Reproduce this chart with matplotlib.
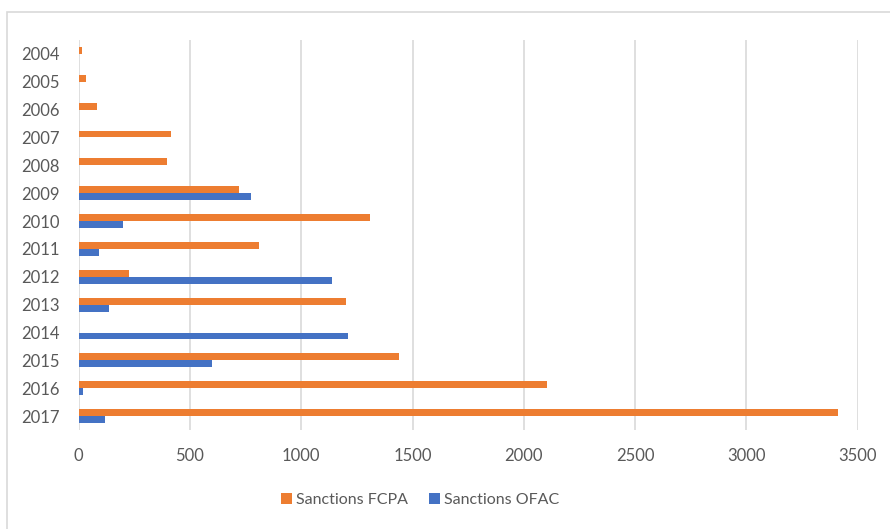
import matplotlib
matplotlib.use("Agg")
import matplotlib.pyplot as plt
import numpy as np
from matplotlib.patches import Rectangle

years = ["2004", "2005", "2006", "2007", "2008", "2009", "2010", "2011",
         "2012", "2013", "2014", "2015", "2016", "2017"]
fcpa = [16, 33, 84, 416, 396, 721, 1310, 808, 228, 1202, 0, 1441, 2103, 3412]
ofac = [0, 0, 0, 0, 3, 772, 199, 90, 1140, 136, 1209, 601, 19, 118]
xticks = [0, 500, 1000, 1500, 2000, 2500, 3000, 3500]

plt.rcParams['font.family'] = ['Lato', 'DejaVu Sans']
W, H = 890, 529
fig = plt.figure(figsize=(W / 100, H / 100), dpi=100)
ax = fig.add_axes([78.7 / W, 1 - 430 / H, (857.7 - 78.7) / W, (430 - 40) / H])

# outer border
fig.patches.append(Rectangle((7 / W, -0.1), 1.2, 1 - 12 / H + 0.1,
                             transform=fig.transFigure, fill=False,
                             edgecolor='#D9D9D9', linewidth=1.2))

y = np.arange(len(years))
h = 0.25
ax.barh(y - h / 2, fcpa, height=h, color='#ED7D31', label='Sanctions FCPA', zorder=3)
ax.barh(y + h / 2, ofac, height=h, color='#4472C4', label='Sanctions OFAC', zorder=3)

ax.set_ylim(len(years) - 0.5, -0.5)
ax.set_xlim(0, 3500)
ax.set_yticks(y)
ax.set_yticklabels(years)
ax.set_xticks(xticks)
ax.set_xticklabels([str(t) for t in xticks])
ax.tick_params(axis='both', length=0, labelsize=12, labelcolor='#595959')
ax.tick_params(axis='x', pad=13)
ax.tick_params(axis='y', pad=14)
ax.grid(axis='x', color='#D9D9D9', linewidth=1.2, zorder=0)
for s in ax.spines.values():
    s.set_visible(False)

leg = fig.legend(loc='center', bbox_to_anchor=(420 / W, 1 - 500 / H), ncol=2,
                 frameon=False, fontsize=11.5, handlelength=0.7, handleheight=0.7,
                 handletextpad=0.25, columnspacing=1.3)
for t in leg.get_texts():
    t.set_color('#595959')

fig.savefig('out.png', dpi=100)
